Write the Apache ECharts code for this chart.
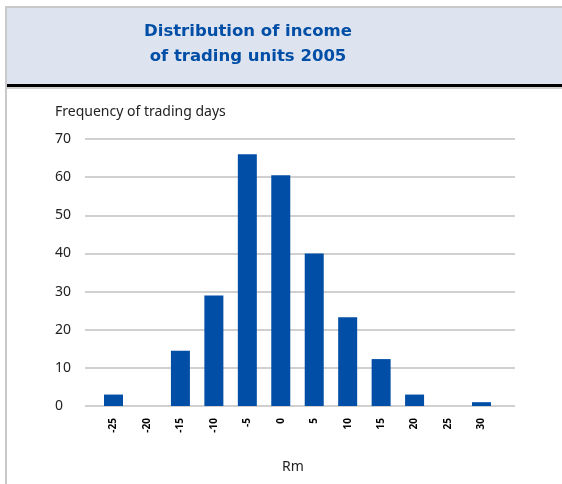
<!DOCTYPE html>
<html>
<head>
<meta charset="utf-8">
<style>
  html, body { margin: 0; padding: 0; background: #ffffff; }
  #chart { width: 562px; height: 484px; }
</style>
<script src="https://cdn.jsdelivr.net/npm/echarts@6/dist/echarts.min.js"></script>
</head>
<body>
<div id="chart"></div>
<script>
// Income bins (Rm) and how many trading days fell into each
const incomeBins = ['-25', '-20', '-15', '-10', '-5', '0', '5', '10', '15', '20', '25', '30'];
const tradingDays = [3, 0, 14.5, 29, 66, 60.5, 40, 23.3, 12.3, 3, 0, 1];
const yTicks = { min: 0, max: 70, interval: 10 };

const BLUE = '#004ea5';
const FONT = 'Noto Sans';

const chart = echarts.init(document.getElementById('chart'), null, { renderer: 'canvas' });

chart.setOption({
  animation: false,
  backgroundColor: '#ffffff',
  textStyle: { fontFamily: FONT },
  graphic: [
    // header panel
    { type: 'rect', shape: { x: 5, y: 6, width: 560, height: 80 },
      style: { fill: '#dde4ef' }, z: -10 },
    { type: 'rect', shape: { x: 5, y: 6, width: 560, height: 2 },
      style: { fill: '#c9c9c9' }, z: -9 },
    { type: 'rect', shape: { x: 5, y: 84, width: 560, height: 3 },
      style: { fill: '#000000' }, z: -9 },
    { type: 'rect', shape: { x: 5, y: 87, width: 560, height: 2 },
      style: { fill: '#cfcfcf' }, z: -9 },
    // left frame edge
    { type: 'rect', shape: { x: 5, y: 6, width: 2, height: 480 },
      style: { fill: '#c9c9c9' }, z: -8 },
    // heading
    { type: 'text', x: 248, y: 32,
      style: { text: 'Distribution of income', fill: BLUE, font: 'bold 16.5px "DejaVu Sans"',
               align: 'center', verticalAlign: 'middle' } },
    { type: 'text', x: 248, y: 57,
      style: { text: 'of trading units 2005', fill: BLUE, font: 'bold 16.5px "DejaVu Sans"',
               align: 'center', verticalAlign: 'middle' } },
    // axis titles
    { type: 'text', x: 55, y: 112,
      style: { text: 'Frequency of trading days', fill: '#222222', font: '14px "Noto Sans"',
               align: 'left', verticalAlign: 'middle' } },
    { type: 'text', x: 293, y: 467,
      style: { text: 'Rm', fill: '#222222', font: '14px "Noto Sans"',
               align: 'center', verticalAlign: 'middle' } }
  ],
  grid: [
    // gridline panel
    { left: 85, width: 430, top: 139, height: 267 },
    // bar panel
    { left: 96.8, width: 401.4, top: 139, height: 267 }
  ],
  xAxis: [
    { gridIndex: 0, type: 'category', data: incomeBins, show: false },
    { gridIndex: 1, type: 'category', data: incomeBins,
      axisLine: { show: false }, axisTick: { show: false },
      axisLabel: { rotate: 90, fontSize: 10, fontWeight: 'bold', color: '#000000', margin: 12, interval: 0 } }
  ],
  yAxis: [
    { gridIndex: 0, type: 'value', min: yTicks.min, max: yTicks.max, interval: yTicks.interval,
      axisLine: { show: false }, axisTick: { show: false },
      axisLabel: { color: '#222222', fontSize: 14, align: 'left', margin: 30 },
      splitLine: { lineStyle: { color: '#d0d0d0', width: 2 } } },
    { gridIndex: 1, type: 'value', min: yTicks.min, max: yTicks.max, interval: yTicks.interval,
      show: false }
  ],
  series: [
    { type: 'bar', xAxisIndex: 1, yAxisIndex: 1, data: tradingDays,
      barWidth: 19, itemStyle: { color: BLUE } }
  ]
});
</script>
</body>
</html>
